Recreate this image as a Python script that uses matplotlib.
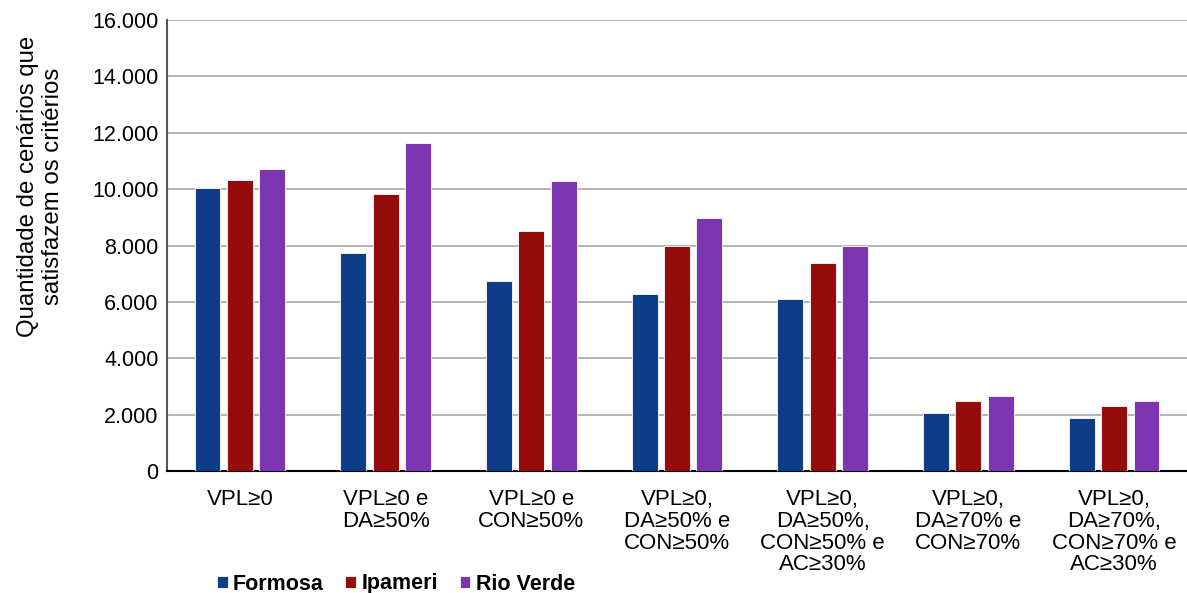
import matplotlib.pyplot as plt
import numpy as np

plt.rcParams['font.family'] = ['Liberation Sans', 'DejaVu Sans']

# cenários que satisfazem cada conjunto de critérios
criterios = ['VPL≥0',
             'VPL≥0 e\nDA≥50%',
             'VPL≥0 e\nCON≥50%',
             'VPL≥0,\nDA≥50% e\nCON≥50%',
             'VPL≥0,\nDA≥50%,\nCON≥50% e\nAC≥30%',
             'VPL≥0,\nDA≥70% e\nCON≥70%',
             'VPL≥0,\nDA≥70%,\nCON≥70% e\nAC≥30%']
formosa = [10040, 7730, 6730, 6290, 6090, 2050, 1880]
ipameri = [10310, 9810, 8520, 7970, 7390, 2480, 2300]
rio_verde = [10720, 11650, 10290, 8960, 7990, 2650, 2480]

series = [('Formosa', formosa, '#0f3c87'),
          ('Ipameri', ipameri, '#940c0c'),
          ('Rio Verde', rio_verde, '#7b35b0')]

fig = plt.figure(figsize=(11.87, 5.93), dpi=100)
ax = fig.add_axes([0.1407, 0.2057, 0.8593, 0.7606])

x = np.arange(len(criterios))
w = 0.178
step = 0.222
for i, (nome, vals, cor) in enumerate(series):
    ax.bar(x + (i - 1) * step, vals, width=w, color=cor, edgecolor='white',
           linewidth=0.6, label=nome, zorder=3)

ax.set_xlim(-0.5, len(criterios) - 0.5)
ax.set_ylim(0, 16000)
ax.set_yticks(np.arange(0, 16001, 2000))
ax.yaxis.set_major_formatter(plt.FuncFormatter(lambda v, p: f'{int(v):,}'.replace(',', '.')))
ax.set_xticks(x)
ax.set_xticklabels(criterios, linespacing=1.05)
ax.tick_params(axis='both', length=0)
ax.tick_params(axis='x', pad=13, labelsize=16)
ax.tick_params(axis='y', pad=6, labelsize=15.5)
ax.grid(axis='y', color='#a8a8a8', linewidth=1.2, zorder=0)

for s in ['top', 'right']:
    ax.spines[s].set_visible(False)
ax.spines['left'].set_color('#555555')
ax.spines['left'].set_linewidth(1.5)
ax.spines['bottom'].set_color('black')
ax.spines['bottom'].set_linewidth(1.5)

ax.set_ylabel('Quantidade de cenários que\nsatisfazem os critérios', fontsize=17.3,
              linespacing=1.2)
ax.yaxis.set_label_coords(-0.101, 0.632)

fig.legend(loc='center', bbox_to_anchor=(396 / 1187, 1 - 584 / 593), ncol=3,
           frameon=False, prop={'weight': 'bold', 'size': 15.5},
           handlelength=0.5, handleheight=0.5, handletextpad=0.25,
           columnspacing=1.0, borderaxespad=0)

fig.savefig('out.png', dpi=100)
